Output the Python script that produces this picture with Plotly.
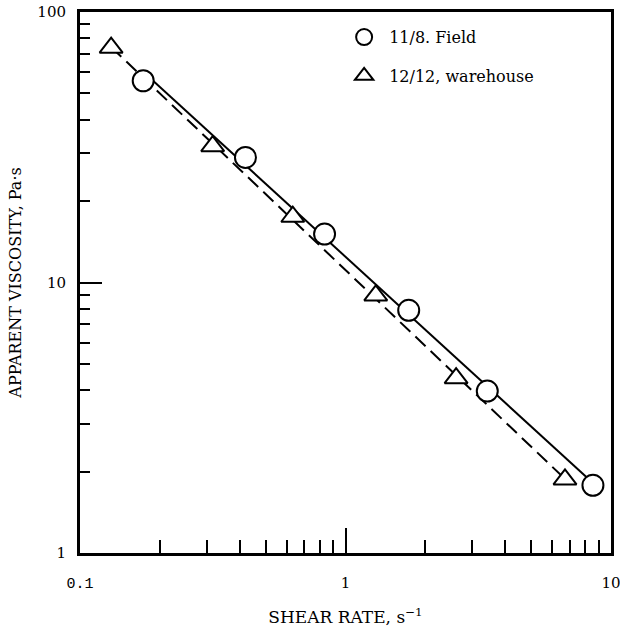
import numpy as np
import plotly.graph_objects as go

# ---- data ----
field_label = "11/8. Field"
field_shear = [0.173, 0.42, 0.834, 1.73, 3.42, 8.55]
field_visc = [55.7, 29.0, 15.1, 7.89, 3.97, 1.78]

ware_label = "12/12, warehouse"
ware_shear = [0.131, 0.316, 0.633, 1.30, 2.61, 6.71]
ware_visc = [73.8, 31.9, 17.5, 8.96, 4.43, 1.87]

x_major = [0.1, 1, 10]
x_major_text = ['<span style="font-family:Liberation Mono">0.1</span>', "1", "10"]
y_major = [1, 10, 100]
y_major_text = ["1", "10", "100"]
minor_vals = [m * d for d in (0.1, 1, 10) for m in range(2, 10)]

FONT = "DejaVu Serif"


def power_fit(x, y):
    lx, ly = np.log10(x), np.log10(y)
    b, a = np.polyfit(lx, ly, 1)
    xe = np.array([min(x), max(x)])
    return xe, 10 ** (a + b * np.log10(xe))


fig = go.Figure()

fx, fy = power_fit(field_shear, field_visc)
wx, wy = power_fit(ware_shear, ware_visc)

fig.add_trace(go.Scatter(x=fx, y=fy, mode="lines", showlegend=False,
                         line=dict(color="black", width=2)))
fig.add_trace(go.Scatter(x=wx, y=wy, mode="lines", showlegend=False,
                         line=dict(color="black", width=2, dash="14px,7px")))

fig.add_trace(go.Scatter(x=field_shear, y=field_visc, mode="markers", name=field_label,
                         legendgroup="a",
                         marker=dict(symbol="circle", size=21, color="white",
                                     line=dict(color="black", width=2))))
fig.add_trace(go.Scatter(x=ware_shear, y=ware_visc, mode="markers", name=ware_label,
                         legendgroup="b",
                         marker=dict(symbol="triangle-up", size=20, color="white",
                                     line=dict(color="black", width=2))))

axis_common = dict(
    type="log", showgrid=False, zeroline=False, automargin=False,
    showline=True, linecolor="black", linewidth=3, mirror=True,
    ticks="inside", tickcolor="black", tickwidth=2,
    tickmode="array", ticklabeloverflow="allow",
    tickfont=dict(family=FONT, size=15, color="black"),
)

fig.update_xaxes(
    **axis_common,
    range=[-1, 1],
    tickvals=x_major, ticktext=x_major_text, ticklen=25,
    ticklabelstandoff=14,
    minor=dict(tickmode="array", tickvals=minor_vals, ticks="inside", ticklen=13,
               tickwidth=2, tickcolor="black"),
    title=dict(text="SHEAR RATE, s<sup>−1</sup>", font=dict(family=FONT, size=17, color="black"),
               standoff=20),
)
fig.update_yaxes(
    **axis_common,
    range=[0, 2],
    tickvals=y_major, ticktext=y_major_text, ticklen=22,
    ticklabelstandoff=8,
    minor=dict(tickmode="array", tickvals=minor_vals, ticks="inside", ticklen=10,
               tickwidth=2, tickcolor="black"),
    title=dict(text="APPARENT VISCOSITY, Pa·s", font=dict(family=FONT, size=16, color="black"),
               standoff=12),
)

fig.update_layout(
    width=620, height=629,
    margin=dict(l=80, r=9, t=12, b=76),
    paper_bgcolor="white", plot_bgcolor="white",
    font=dict(family=FONT, color="black"),
    legend=dict(x=0.488, y=0.985, xanchor="left", yanchor="top",
                bgcolor="rgba(0,0,0,0)", tracegroupgap=15, itemwidth=40,
                font=dict(family=FONT, size=16, color="black")),
)

fig.write_html("out.html")
